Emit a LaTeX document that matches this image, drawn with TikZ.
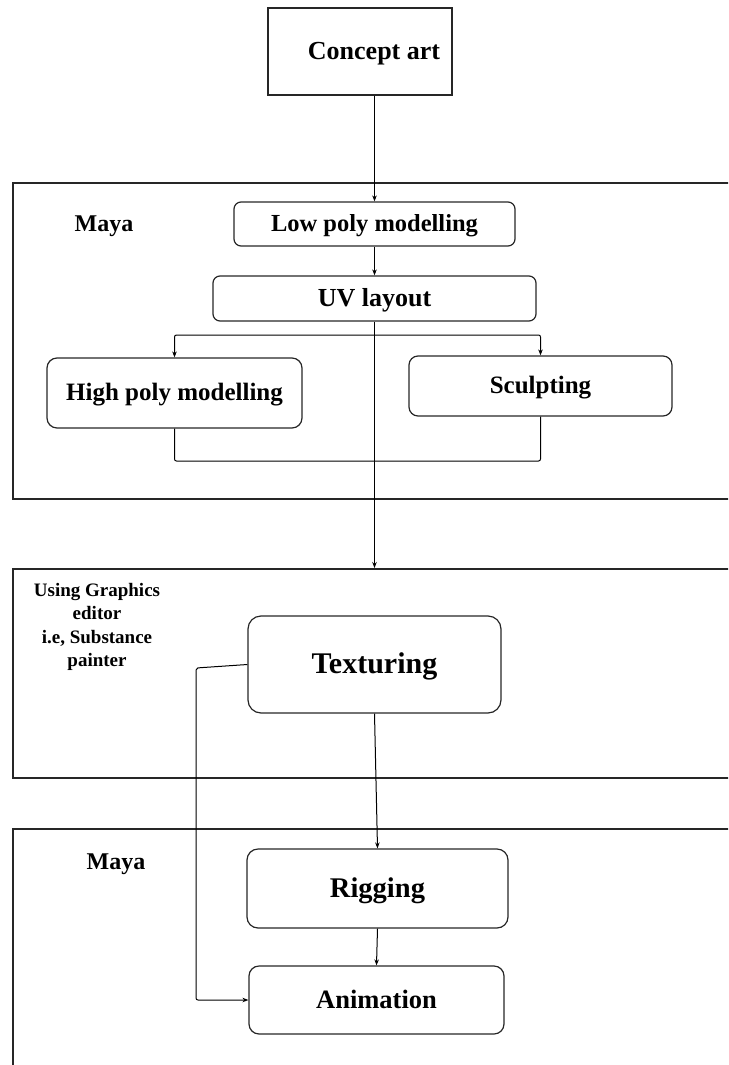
\documentclass[tikz,border=0pt]{standalone}
\usepackage{fontspec}
\setmainfont{Liberation Serif}
\usetikzlibrary{arrows.meta,calc}
\begin{document}
\begin{tikzpicture}[x=1pt,y=-1pt,
  every node/.style={font=\bfseries},
  outerbox/.style={draw=black!85,line width=1.6pt,minimum width=#1},
  stepbox/.style={draw=black!85,line width=1.2pt,rounded corners=7pt,inner sep=0pt,text depth=0pt},
  arr/.style={-{Stealth[length=6pt,width=4.5pt]},line width=1pt},
  link/.style={line width=1pt},
  lbl/.style={inner sep=0pt}
]
\useasboundingbox (0,0) rectangle (728,1065);
\clip (0,0) rectangle (728,1065);
% outer regions
\node[outerbox=740pt,minimum height=316pt,anchor=north west] (maya1) at (12,182) {};
\node[outerbox=740pt,minimum height=209pt,anchor=north west] (gfx) at (12,568) {};
\node[outerbox=740pt,minimum height=260pt,anchor=north west] (maya2) at (12,828) {};
% region labels
\node[lbl,text height=15.5pt,text depth=0pt,font=\bfseries\fontsize{24}{26}\selectfont] (l1) at (104,224) {Maya};
\node[lbl,text height=15.5pt,text depth=0pt,font=\bfseries\fontsize{24}{26}\selectfont] (l3) at (116,862) {Maya};
\node[lbl,align=center,font=\bfseries\fontsize{19}{23.3}\selectfont] (l2) at (97,627) {Using Graphics\\editor\\i.e, Substance\\painter};
% steps
\node[draw=black!85,line width=1.4pt,minimum width=184pt,minimum height=87pt,
  label={[xshift=14pt,text height=16.2pt,text depth=0pt,font=\bfseries\fontsize{26}{28}\selectfont]center:Concept art}] (concept) at (360,51.5) {};
\node[stepbox,text height=15.2pt,minimum width=281pt,minimum height=44pt,font=\bfseries\fontsize{24.5}{26}\selectfont] (low) at (374.5,224) {Low poly modelling};
\node[stepbox,text height=16.2pt,minimum width=323pt,minimum height=45pt,font=\bfseries\fontsize{26}{28}\selectfont] (uv) at (374.5,298.5) {UV layout};
\node[stepbox,text height=15.5pt,rounded corners=10pt,minimum width=255pt,minimum height=70pt,font=\bfseries\fontsize{25}{27}\selectfont] (hp) at (174.5,393) {High poly modelling};
\node[stepbox,text height=15.5pt,rounded corners=9pt,minimum width=263pt,minimum height=60pt,font=\bfseries\fontsize{25}{27}\selectfont] (sc) at (540.5,386) {Sculpting};
\node[stepbox,text height=18.8pt,rounded corners=13pt,minimum width=253pt,minimum height=97pt,font=\bfseries\fontsize{30}{32}\selectfont] (tex) at (374.5,664.5) {Texturing};
\node[stepbox,text height=17.8pt,rounded corners=11pt,minimum width=261pt,minimum height=79pt,font=\bfseries\fontsize{28.5}{30}\selectfont] (rig) at (377.5,888.5) {Rigging};
\node[stepbox,text height=16.5pt,rounded corners=10pt,minimum width=255pt,minimum height=68pt,font=\bfseries\fontsize{26.5}{28}\selectfont] (anim) at (376.5,1000) {Animation};
% helper coordinates
\coordinate (br) at (374,335);
\coordinate (jn) at (374,461);
\coordinate (tl) at (196,668);
% connectors
\draw[arr] (low.north |- concept.south) -- (low.north);
\draw[arr] (low.south) -- (uv.north);
\draw[arr] (uv.south) -- (uv.south |- gfx.north);
\draw[{Stealth[length=6pt,width=4.5pt]}-{Stealth[length=6pt,width=4.5pt]},line width=1pt,rounded corners=2pt] (hp.north) |- (br) -| (sc.north);
\draw[link,rounded corners=2pt] (hp.south) |- (jn) -| (sc.south);
\draw[arr,rounded corners=2pt] (tex.west) -- (tl) |- (anim.west);
\draw[arr] (tex.south) -- (rig.north);
\draw[arr] (rig.south) -- (anim.north);
\end{tikzpicture}
\end{document}
